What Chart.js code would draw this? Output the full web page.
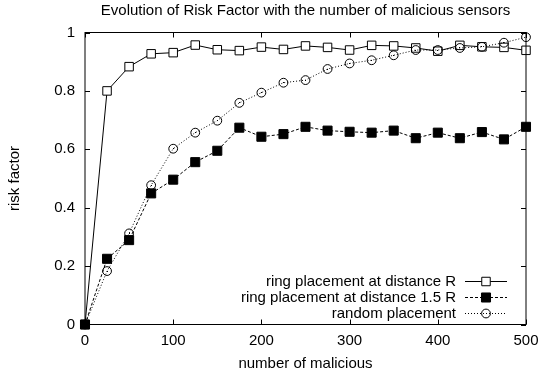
<!DOCTYPE html>
<html>
<head>
<meta charset="utf-8">
<script src="https://cdn.jsdelivr.net/npm/chart.js@4.4.0/dist/chart.umd.min.js"></script>
<style>
  html, body { margin: 0; padding: 0; background: #fff; }
  #wrap { width: 554px; height: 378px; }
</style>
</head>
<body>
<div id="wrap"><canvas id="chart"></canvas></div>
<script>
// data
const malicious = [0, 25, 50, 75, 100, 125, 150, 175, 200, 225, 250, 275, 300, 325, 350, 375, 400, 425, 450, 475, 500];
const ringR = [0, 0.80, 0.883, 0.927, 0.931, 0.957, 0.941, 0.938, 0.950, 0.942, 0.954, 0.949, 0.940, 0.956, 0.954, 0.947, 0.936, 0.956, 0.951, 0.949, 0.939];
const ring15R = [0, 0.225, 0.289, 0.449, 0.496, 0.556, 0.595, 0.674, 0.643, 0.652, 0.677, 0.664, 0.660, 0.657, 0.664, 0.638, 0.657, 0.638, 0.659, 0.634, 0.677];
const randomPl = [0, 0.183, 0.312, 0.477, 0.602, 0.657, 0.698, 0.759, 0.794, 0.828, 0.837, 0.875, 0.894, 0.905, 0.922, 0.940, 0.940, 0.947, 0.951, 0.965, 0.984];
const xTicks = [0, 100, 200, 300, 400, 500];
const yTicks = [0, 0.2, 0.4, 0.6, 0.8, 1];

const TITLE = 'Evolution of Risk Factor with the number of malicious sensors';
const FONT = '"Liberation Sans", Arial, sans-serif';
const FS = 15;

function pts(ys) {
    return ys.map((y, i) => ({ x: malicious[i], y: y }));
}

function drawMarker(ctx, ds, x, y) {
    ctx.strokeStyle = '#000';
    ctx.lineWidth = 1;
    ctx.beginPath();
    if (ds.pointStyle === 'rect') {
        const s = Math.SQRT1_2 * ds.pointRadius;
        ctx.rect(x - s, y - s, 2 * s, 2 * s);
        ctx.fillStyle = ds.pointBackgroundColor;
        ctx.fill();
        ctx.stroke();
    } else {
        ctx.arc(x, y, ds.pointRadius, 0, Math.PI * 2);
        ctx.stroke();
        ctx.fillStyle = '#000';
        ctx.fillRect(Math.floor(x), Math.floor(y), 1, 1);
    }
}

// frame, inward ticks on all four sides, title over the plot, dots in circles, legend
const gnuplotLook = {
    id: 'gnuplotLook',
    afterDatasetsDraw(chart) {
        const ctx = chart.ctx;
        ctx.save();
        ctx.fillStyle = '#000';
        chart.getDatasetMeta(2).data.forEach(p => {
            ctx.fillRect(Math.floor(p.x), Math.floor(p.y), 1, 1);
        });
        ctx.restore();
    },
    afterDraw(chart) {
        const ctx = chart.ctx;
        const a = chart.chartArea;
        const xs = chart.scales.x, ys = chart.scales.y;
        ctx.save();
        ctx.strokeStyle = '#000';
        ctx.lineWidth = 1;
        ctx.setLineDash([]);
        ctx.strokeRect(a.left, a.top, a.right - a.left, a.bottom - a.top);
        ctx.beginPath();
        xTicks.forEach(v => {
            const px = Math.round(xs.getPixelForValue(v)) + 0.5;
            ctx.moveTo(px, a.bottom); ctx.lineTo(px, a.bottom - 5);
            ctx.moveTo(px, a.top); ctx.lineTo(px, a.top + 5);
        });
        yTicks.forEach(v => {
            const py = Math.round(ys.getPixelForValue(v)) + 0.5;
            ctx.moveTo(a.left, py); ctx.lineTo(a.left + 5, py);
            ctx.moveTo(a.right, py); ctx.lineTo(a.right - 5, py);
        });
        ctx.stroke();

        ctx.font = FS + 'px ' + FONT;
        ctx.textBaseline = 'middle';
        ctx.fillStyle = '#000';
        ctx.textAlign = 'center';
        ctx.fillText(TITLE, (a.left + a.right) / 2, 10.5);

        // legend
        ctx.textAlign = 'right';
        const textX = a.right - 70;
        const lineX0 = a.right - 61, lineX1 = a.right - 19;
        const mid = (lineX0 + lineX1) / 2;
        chart.data.datasets.forEach((ds, i) => {
            const y = Math.round(a.bottom - 44 + i * 16) + 0.5;
            ctx.fillStyle = '#000';
            ctx.fillText(ds.label, textX, y);
            ctx.beginPath();
            ctx.setLineDash(ds.borderDash || []);
            ctx.moveTo(lineX0, y);
            ctx.lineTo(lineX1, y);
            ctx.stroke();
            ctx.setLineDash([]);
            drawMarker(ctx, ds, mid, y);
        });
        ctx.restore();
    }
};

new Chart(document.getElementById('chart'), {
    type: 'line',
    data: {
        datasets: [{
            label: 'ring placement at distance R',
            data: pts(ringR),
            borderColor: '#000',
            borderWidth: 1,
            pointStyle: 'rect',
            pointRadius: 6,
            pointBackgroundColor: '#fff',
            pointBorderColor: '#000',
            pointBorderWidth: 1,
            order: 3
        }, {
            label: 'ring placement at distance 1.5 R',
            data: pts(ring15R),
            borderColor: '#000',
            borderWidth: 1,
            borderDash: [3, 2],
            pointStyle: 'rect',
            pointRadius: 6.4,
            pointBackgroundColor: '#000',
            pointBorderColor: '#000',
            pointBorderWidth: 1,
            order: 2
        }, {
            label: 'random placement',
            data: pts(randomPl),
            borderColor: '#000',
            borderWidth: 1,
            borderDash: [1, 2],
            pointStyle: 'circle',
            pointRadius: 4.4,
            pointBackgroundColor: 'rgba(0,0,0,0)',
            pointBorderColor: '#000',
            pointBorderWidth: 1,
            order: 1
        }]
    },
    options: {
        responsive: true,
        maintainAspectRatio: false,
        animation: false,
        clip: false,
        layout: { padding: { left: 0, right: 28, top: 32.5, bottom: 0 } },
        plugins: {
            legend: { display: false },
            tooltip: { enabled: false },
            title: { display: false }
        },
        scales: {
            x: {
                type: 'linear',
                min: 0,
                max: 500,
                afterFit(scale) { scale.height = 53.5; },
                afterBuildTicks(scale) { scale.ticks = xTicks.map(v => ({ value: v })); },
                grid: { display: false, drawTicks: false },
                border: { display: false },
                ticks: { color: '#000', padding: 7, font: { family: FONT, size: FS } },
                title: {
                    display: true,
                    text: 'number of malicious',
                    color: '#000',
                    font: { family: FONT, size: FS },
                    padding: { top: 0, bottom: 5 }
                }
            },
            y: {
                min: 0,
                max: 1,
                afterFit(scale) { scale.width = 85; },
                afterBuildTicks(scale) { scale.ticks = yTicks.map(v => ({ value: v })); },
                grid: { display: false, drawTicks: false },
                border: { display: false },
                ticks: {
                    color: '#000',
                    padding: 10,
                    font: { family: FONT, size: FS },
                    callback: v => String(Math.round(v * 10) / 10)
                },
                title: {
                    display: true,
                    text: 'risk factor',
                    color: '#000',
                    font: { family: FONT, size: FS },
                    padding: { top: 6, bottom: 0 }
                }
            }
        }
    },
    plugins: [gnuplotLook]
});
</script>
</body>
</html>
